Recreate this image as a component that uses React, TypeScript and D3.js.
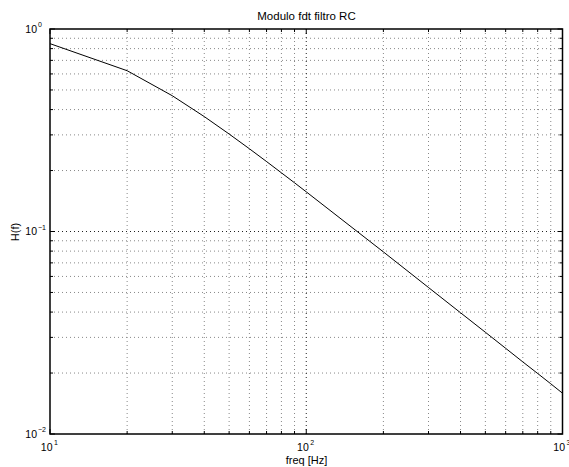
import React from "react";
import * as d3 from "d3";

const freq = [10, 20, 30, 40, 50, 60, 70, 80, 90, 100, 200, 300, 400, 500, 600, 700, 800, 900, 1000];
const magnitude = [0.8465, 0.6223, 0.4683, 0.3694, 0.303, 0.2562, 0.2215, 0.1949, 0.174, 0.157, 0.0793, 0.0529, 0.0397, 0.0318, 0.0265, 0.0227, 0.0199, 0.0177, 0.0159];
const xMajorTicks = [10, 100, 1000];
const xTickExponents = ["1", "2", "3"];
const yMajorTicks = [0.01, 0.1, 1];
const yTickExponents = ["−2", "−1", "0"];
const title = "Modulo fdt filtro RC";
const xLabel = "freq [Hz]";
const yLabel = "H(f)";

const W = 569;
const H = 467;
const L = 50, R = 562.5, T = 29, B = 434;

export default function App() {
  const x = d3.scaleLog().domain([10, 1000]).range([L, R]);
  const y = d3.scaleLog().domain([0.01, 1]).range([B, T]);

  const xMinor: number[] = [];
  const yMinor: number[] = [];
  for (const dec of [10, 100]) for (let k = 2; k <= 9; k++) xMinor.push(dec * k);
  for (const dec of [0.01, 0.1]) for (let k = 2; k <= 9; k++) yMinor.push(dec * k);

  const line = d3.line<number>().x((_, i) => x(freq[i])).y((d) => y(d));
  const font = "'Liberation Sans', Arial, Helvetica, sans-serif";

  return (
    <svg width={W} height={H} style={{ position: "absolute", left: 0, top: 0, background: "#fff" }} fontFamily={font}>
      <rect x={0} y={0} width={W} height={H} fill="#fff" />
      {xMinor.map((v) => (
        <line key={"gx" + v} x1={x(v)} x2={x(v)} y1={T} y2={B} stroke="#888" strokeWidth={1} strokeDasharray="1,3" />
      ))}
      {yMinor.map((v) => (
        <line key={"gy" + v} x1={L} x2={R} y1={y(v)} y2={y(v)} stroke="#888" strokeWidth={1} strokeDasharray="1,3" />
      ))}
      {xMajorTicks.slice(1, -1).map((v) => (
        <line key={"Gx" + v} x1={x(v)} x2={x(v)} y1={T} y2={B} stroke="#222" strokeWidth={1} strokeDasharray="1,3" />
      ))}
      {yMajorTicks.slice(1, -1).map((v) => (
        <line key={"Gy" + v} x1={L} x2={R} y1={y(v)} y2={y(v)} stroke="#222" strokeWidth={1} strokeDasharray="1,3" />
      ))}
      {xMinor.map((v) => (
        <g key={"tx" + v} stroke="#000">
          <line x1={x(v)} x2={x(v)} y1={B} y2={B - 3} />
          <line x1={x(v)} x2={x(v)} y1={T} y2={T + 3} />
        </g>
      ))}
      {xMajorTicks.map((v) => (
        <g key={"Tx" + v} stroke="#000">
          <line x1={x(v)} x2={x(v)} y1={B} y2={B - 5} />
          <line x1={x(v)} x2={x(v)} y1={T} y2={T + 5} />
        </g>
      ))}
      {yMinor.map((v) => (
        <g key={"ty" + v} stroke="#000">
          <line x1={L} x2={L + 3} y1={y(v)} y2={y(v)} />
          <line x1={R} x2={R - 3} y1={y(v)} y2={y(v)} />
        </g>
      ))}
      {yMajorTicks.map((v) => (
        <g key={"Ty" + v} stroke="#000">
          <line x1={L} x2={L + 5} y1={y(v)} y2={y(v)} />
          <line x1={R} x2={R - 5} y1={y(v)} y2={y(v)} />
        </g>
      ))}
      <path d={line(magnitude) || ""} fill="none" stroke="#000" strokeWidth={1} />
      <rect x={L} y={T} width={R - L} height={B - T} fill="none" stroke="#000" strokeWidth={1.5} />
      {xMajorTicks.map((v, i) => (
        <g key={"lx" + v} fontSize={10.5} fill="#000">
          <text x={x(v) + 2.5} y={451} textAnchor="end">10</text>
          <text x={x(v) + 4} y={445} fontSize={7}>{xTickExponents[i]}</text>
        </g>
      ))}
      {yMajorTicks.map((v, i) => (
        <g key={"ly" + v} fontSize={10.5} fill="#000">
          <text x={37} y={y(v) + 3.5} textAnchor="end">10</text>
          <text x={38} y={y(v) - 2} fontSize={7}>{yTickExponents[i]}</text>
        </g>
      ))}
      <text x={306.5} y={20} textAnchor="middle" fontSize={11.5}>{title}</text>
      <text x={306.5} y={464} textAnchor="middle" fontSize={11}>{xLabel}</text>
      <text x={19} y={232} textAnchor="middle" fontSize={11} transform="rotate(-90 19 232)">{yLabel}</text>
    </svg>
  );
}
